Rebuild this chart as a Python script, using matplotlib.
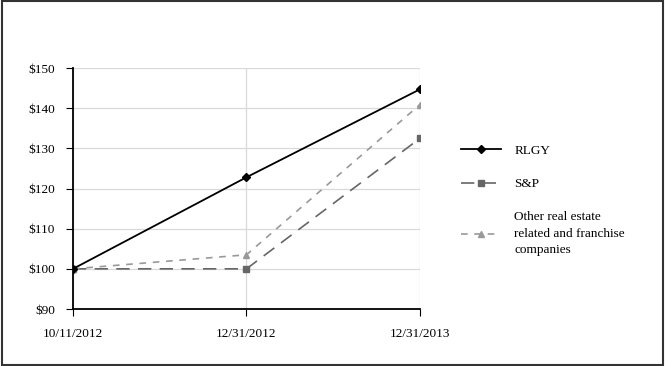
import matplotlib.pyplot as plt
from matplotlib.patches import Rectangle

# data
dates = ["10/11/2012", "12/31/2012", "12/31/2013"]
rlgy = [100, 122.8, 144.7]
sp = [100, 100, 132.5]
other = [100, 103.5, 140.9]

plt.rcParams['font.family'] = ['Liberation Serif', 'DejaVu Serif']
plt.rcParams['font.size'] = 9.5

fig = plt.figure(figsize=(6.66, 3.66), dpi=100)
ax = fig.add_axes([0.1096, 0.1557, 0.5210, 0.6585])

x = range(len(dates))
ax.plot(x, rlgy, color='black', lw=1.3, marker='D', ms=4.5, label="RLGY", zorder=4)
ax.plot(x, sp, color='#666666', lw=1.2, dashes=(8, 5), marker='s', ms=4.5, label="S&P", zorder=3)
ax.plot(x, other, color='#999999', lw=1.2, dashes=(4, 4), marker='^', ms=5, label="Other real estate\nrelated and franchise\ncompanies", zorder=3)

ax.set_xlim(0, 2)
ax.set_ylim(90, 150)
ax.set_yticks(range(90, 151, 10))
ax.set_yticklabels(["$%d" % v for v in range(90, 151, 10)])
ax.set_xticks(x)
ax.set_xticklabels(dates)
ax.grid(True, color='#d9d9d9', lw=0.9)
ax.set_axisbelow(True)
for s in ['top', 'right']:
    ax.spines[s].set_visible(False)
ax.spines['left'].set_linewidth(1.3)
ax.spines['bottom'].set_linewidth(1.3)
ax.tick_params(axis='y', direction='out', length=5, pad=8)
ax.tick_params(axis='x', direction='out', length=5, pad=9)

leg = ax.legend(loc='center left', bbox_to_anchor=(1.085, 0.45), frameon=False,
                handlelength=3.0, labelspacing=1.6, handletextpad=1.0)
for t in leg.get_texts():
    t.set_linespacing(1.5)

# outer border
fig.patches.append(Rectangle((0.003, 0.004), 0.993, 0.992, transform=fig.transFigure,
                             fill=False, edgecolor='#333333', lw=1.5))

fig.savefig("out.png", dpi=100)
